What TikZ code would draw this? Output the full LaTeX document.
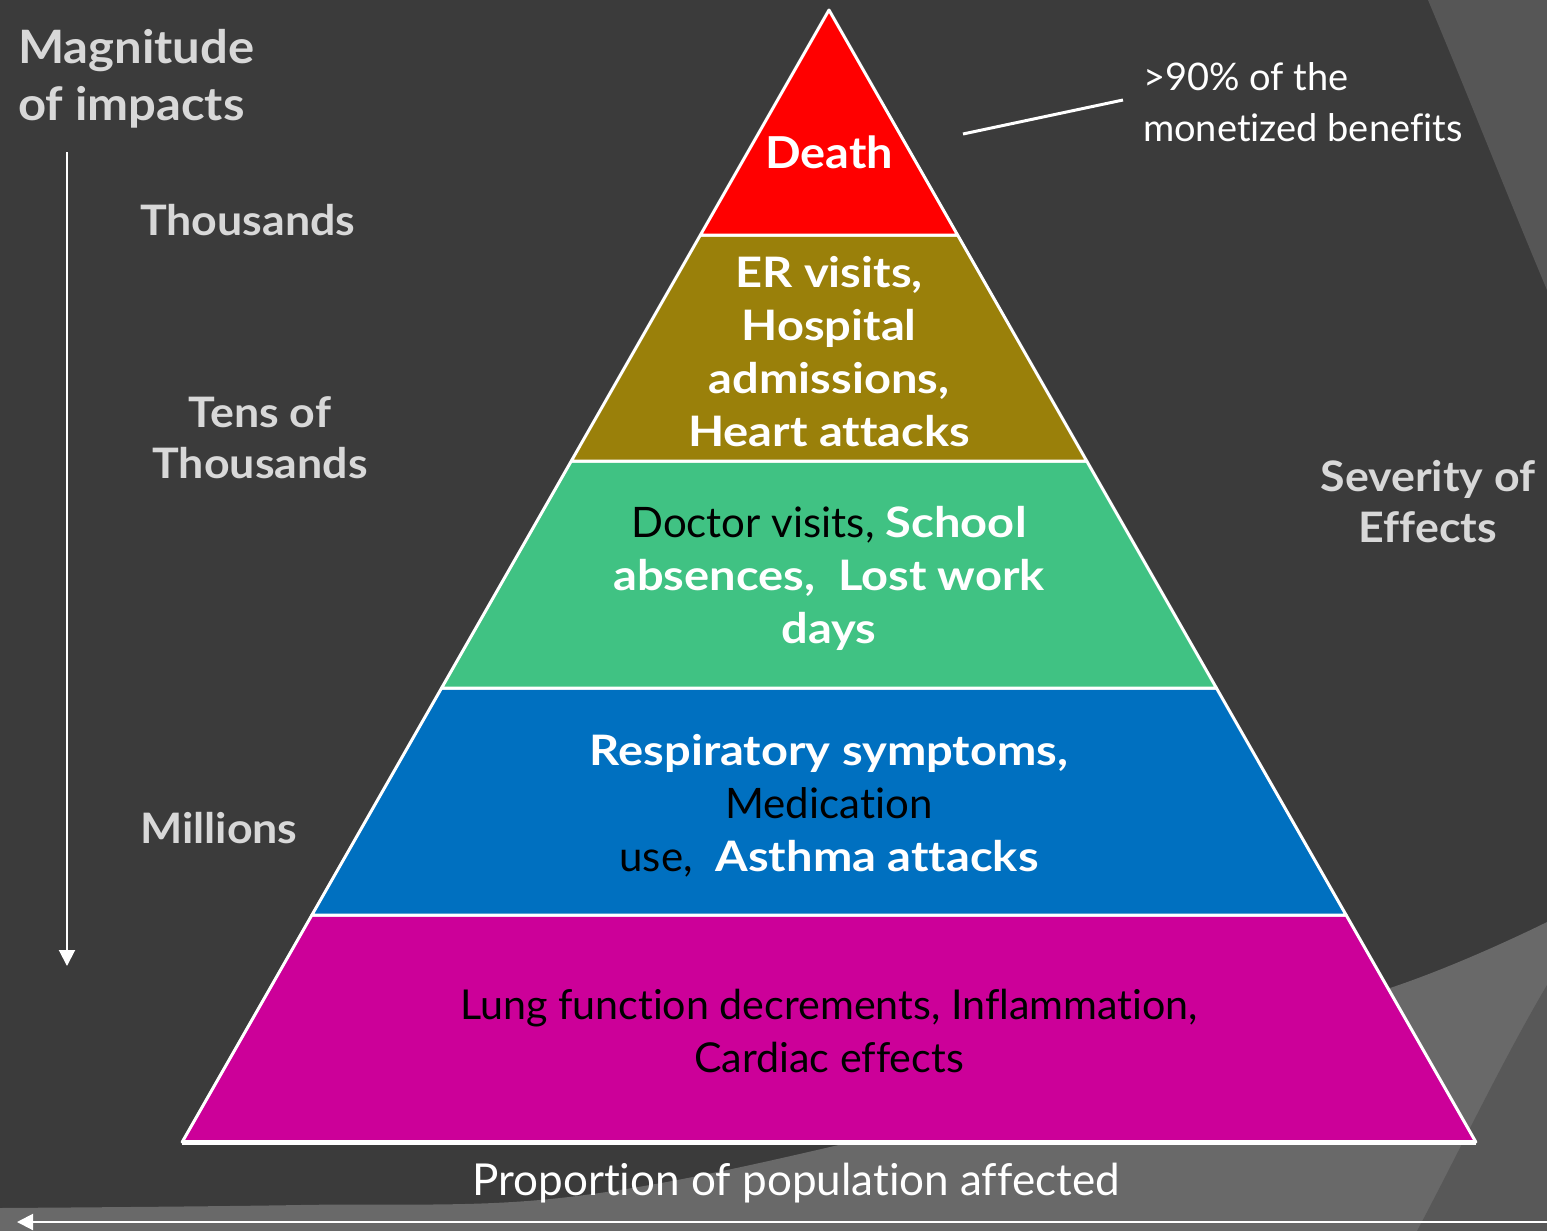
\documentclass[tikz,border=0pt]{standalone}
\usepackage{fontspec}
\setmainfont{Lato}[Ligatures=NoCommon]
\newfontfamily\sidefam{Lato}[Ligatures=NoCommon,FakeStretch=1.065]
\newfontfamily\pyrfam{Lato}[Ligatures=NoCommon,FakeStretch=1.12]
\usetikzlibrary{arrows.meta}
\definecolor{bgdark}{HTML}{3B3B3B}
\definecolor{bglight}{HTML}{696969}
\definecolor{bgmid}{HTML}{585858}
\definecolor{bgtop}{HTML}{565656}
\definecolor{cred}{HTML}{FF0000}
\definecolor{colive}{HTML}{9A800A}
\definecolor{cgreen}{HTML}{40C283}
\definecolor{cblue}{HTML}{0070C0}
\definecolor{cmag}{HTML}{CC0099}
\definecolor{lblgray}{HTML}{D8D8D8}
\begin{document}
\begin{tikzpicture}[x=0.5pt,y=-0.5pt,
  layer/.style={draw=white,line width=1.5pt,line join=round},
  ptext/.style={text=white,align=center,font=\pyrfam\bfseries\fontsize{21}{26.5}\selectfont},
  sidelbl/.style={text=lblgray,font=\sidefam\bfseries\fontsize{21}{25.5}\selectfont},
  plain/.style={text=white,font=\fontsize{19}{25.5}\selectfont},
  axis/.style={white,line width=1pt,-{Triangle[width=8pt,length=8pt]}}]
\useasboundingbox (0,0) rectangle (1547,1231);
% background
\fill[bgdark] (0,0) rectangle (1547,1231);
\fill[bgtop] (1428,0) .. controls (1470,100) and (1505,190) .. (1547,290) -- (1547,0) -- cycle;
\fill[bglight] (0,1231) -- plot[smooth,tension=0.6] coordinates {(0,1208) (300,1205) (560,1198) (830,1147) (1100,1073) (1393,987) (1547,922)} -- (1547,1231) -- cycle;
\fill[bgmid] (1547,985) .. controls (1500,1065) and (1460,1150) .. (1417,1231) -- (1547,1231) -- cycle;
% pyramid coordinates
\coordinate (A) at (829,10);
\coordinate (L1) at (700.4,235); \coordinate (R1) at (957.6,235);
\coordinate (L2) at (571.3,461); \coordinate (R2) at (1086.7,461);
\coordinate (L3) at (441.6,688); \coordinate (R3) at (1216.4,688);
\coordinate (L4) at (311.9,915); \coordinate (R4) at (1346.1,915);
\coordinate (L5) at (182.2,1142); \coordinate (R5) at (1475.8,1142);
\filldraw[layer,fill=cmag] (L4) -- (R4) -- (R5) -- (L5) -- cycle;
\filldraw[layer,fill=cblue] (L3) -- (R3) -- (R4) -- (L4) -- cycle;
\filldraw[layer,fill=cgreen] (L2) -- (R2) -- (R3) -- (L3) -- cycle;
\filldraw[layer,fill=colive] (L1) -- (R1) -- (R2) -- (L2) -- cycle;
\filldraw[layer,fill=cred] (A) -- (R1) -- (L1) -- cycle;
\draw[white,line width=2.5pt] (L5) -- (R5);
% pyramid texts
\node[ptext,font=\sidefam\bfseries\fontsize{22}{26.5}\selectfont] (death) at (829,152) {Death};
\node[ptext] (er) at (829,352) {ER visits,\\Hospital\\admissions,\\Heart attacks};
\node[ptext] (doc) at (829,578) {{\normalfont\color{black}Doctor visits,} School\\absences,\ \ Lost work\\days};
\node[ptext] (resp) at (829,806) {Respiratory symptoms,\\{\normalfont\color{black}Medication}\\{\normalfont\color{black}use,}\ \ Asthma attacks};
\node[ptext,text=black,font=\normalfont\fontsize{20.6}{26.5}\selectfont] (lung) at (829,1031) {Lung function decrements, Inflammation,\\Cardiac effects};
% side labels
\node[sidelbl,anchor=west,align=left,font=\sidefam\bfseries\fontsize{23}{28.5}\selectfont] (mag) at (11,79) {Magnitude\\of impacts};
\node[sidelbl,anchor=west] (thou) at (133,220) {Thousands};
\node[sidelbl,align=center] (tens) at (260,438) {Tens of\\Thousands};
\node[sidelbl,anchor=west] (mill) at (133,828) {Millions};
\node[sidelbl,align=center] (sev) at (1428,502) {Severity of\\Effects};
\node[plain,anchor=west,align=left] (ninety) at (1136,102) {>90\% of the\\monetized benefits};
\node[plain,font=\fontsize{22}{26}\selectfont] (prop) at (796,1183) {Proportion of population affected};
% connectors
\coordinate (ptr) at (963,134);
\coordinate (ptrend) at (1123,100);
\draw[white,line width=1.5pt] (ptr) -- (ptrend);
\coordinate (vtop) at (67,152); \coordinate (vbot) at (67,966);
\draw[axis] (vtop) -- (vbot);
\coordinate (hright) at (1547,1222); \coordinate (hleft) at (17,1222);
\draw[axis] (hright) -- (hleft);
\end{tikzpicture}
\end{document}
